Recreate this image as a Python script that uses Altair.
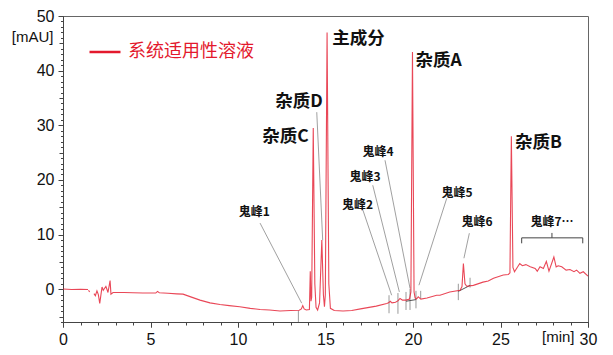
import altair as alt
import pandas as pd

RED = "#e3192d"
CJK = "Noto Sans CJK SC"
LAT = "Liberation Sans"

# ---- chromatogram trace (time [min], signal [mAU], segment id) ----
trace_t = [0.0, 0.5, 1.0, 1.43,
           1.46, 1.52,
           1.77, 1.85, 1.94, 2.02, 2.10, 2.23, 2.30, 2.34, 2.45, 2.52, 2.57, 2.69, 2.74, 2.86,
           3.5, 4.0, 4.57, 5.3, 5.4, 5.5, 6.0, 6.5, 6.86, 7.3, 7.83, 8.4, 8.97, 9.5, 10.1,
           10.7, 11.26, 11.8, 12.4, 13.0, 13.5, 13.62, 13.7, 13.78, 13.9, 14.08, 14.13,
           14.17, 14.21, 14.30, 14.39, 14.46, 14.55, 14.66, 14.79, 14.88, 14.94, 14.99,
           15.09, 15.19, 15.28, 15.5, 16.0, 16.5, 17.0, 17.9, 18.5, 18.6, 18.7, 18.8, 19.0,
           19.15, 19.26, 19.4, 19.6, 19.8, 19.88, 19.97, 20.06, 20.12, 20.2, 20.3, 20.45,
           20.8, 21.35, 21.54, 22.1, 22.69, 22.80, 22.88, 22.97, 23.07, 23.45, 24.0, 24.3,
           24.6, 25.16, 25.45, 25.54, 25.62, 25.71, 25.80, 26.1, 26.25, 26.45, 26.7, 26.98,
           27.1, 27.26, 27.45, 27.62, 27.77, 28.05, 28.18, 28.3, 28.5, 28.75, 28.97, 29.2,
           29.35, 29.54, 29.73, 30.0]
trace_v = [0.05, -0.05, 0.0, -0.05,
           -0.2, -0.5,
           -0.8, -1.2, -0.3, -1.0, -2.6, 0.4, -0.2, 0.0, 0.5, -0.1, -0.6, 1.6, -0.9, -0.6,
           -0.6, -0.65, -0.7, -0.7, -0.4, -0.65, -0.75, -0.85, -0.9, -1.4, -2.0, -2.5, -2.8, -3.0, -3.2,
           -3.5, -3.7, -3.8, -4.0, -3.9, -3.85, -3.6, -3.0, -3.6, -3.8, -3.7, 3.3,
           -2.2, -1.5, 29.5, 1.0, -3.3, -3.8, -2.5, 9.0, -1.0, -3.2, -1.0,
           47.0, 1.0, -3.5, -3.9, -4.0, -3.9, -3.6, -3.1, -2.6, -2.5, -2.2, -2.5, -2.4,
           -2.1, -1.7, -2.0, -2.0, -1.8, -0.5, 43.4, -0.5, -1.6, -1.8, -1.4, -1.8,
           -1.6, -1.1, -1.1, -0.5, -0.2, 0.5, 4.7, 1.0, 0.55, 0.7, 1.3, 1.5,
           2.0, 2.6, 2.7, 3.0, 28.0, 4.0, 3.2, 4.7, 4.3, 4.5, 4.1, 3.8,
           3.3, 4.1, 3.8, 5.1, 3.3, 5.9, 4.1, 4.3, 4.1, 3.5, 3.6, 3.2,
           3.5, 2.9, 3.2, 2.4]
trace_seg = [1] * 4 + [2] * 2 + [3] * (len(trace_t) - 6)

# ---- peak names ----
big_names = ["杂质C", "杂质D", "主成分", "杂质A", "杂质B"]
big_t = [12.71, 13.49, 16.89, 21.46, 27.17]
big_v = [27.9, 34.3, 45.7, 41.8, 26.7]

ghost_names = ["鬼峰1", "鬼峰2", "鬼峰3", "鬼峰4", "鬼峰5", "鬼峰6", "鬼峰7…"]
ghost_t = [10.93, 16.83, 17.26, 18.00, 22.51, 23.66, 27.94]
ghost_v = [14.1, 15.4, 20.5, 25.1, 17.6, 12.3, 12.3]

# leader lines: label end -> peak end
lead_t1 = [11.26, 14.50, 17.14, 17.70, 18.40, 21.93, 23.22]
lead_v1 = [12.1, 32.4, 14.46, 19.03, 23.6, 16.65, 10.25]
lead_t2 = [13.64, 14.84, 18.78, 19.22, 19.83, 20.34, 22.91]
lead_v2 = [-2.56, 8.97, -1.1, -0.49, 0.18, 0.73, 5.67]

# integration markers (vertical ticks)
mark_t = [13.45, 18.63, 19.14, 19.60, 19.83, 20.17, 20.44, 22.59, 23.26]
mark_top = [-3.9, -1.1, -0.7, -0.5, 0.1, -0.3, -0.3, 1.0, 2.1]
mark_bot = [-6.0, -4.4, -4.5, -3.8, -3.8, -3.5, -1.7, -2.0, 0.3]

# integration baselines
base_t1 = [19.60, 22.59]
base_v1 = [-2.2, -0.4]
base_t2 = [20.17, 23.26]
base_v2 = [-1.9, 0.7]

# bracket for 鬼峰7…
br_t1 = [26.21, 26.21, 29.70, 27.94]
br_v1 = [9.4, 9.4, 9.4, 9.4]
br_t2 = [29.70, 26.21, 29.70, 27.94]
br_v2 = [9.4, 8.4, 8.4, 10.3]

legend_name = "系统适用性溶液"

x_scale = alt.Scale(domain=[0, 30], nice=False, zero=False)
y_scale = alt.Scale(domain=[-6, 50], nice=False, zero=False)

df_trace = pd.DataFrame({"t": trace_t, "v": trace_v, "seg": trace_seg,
                         "name": [legend_name] * len(trace_t)})

x_major = alt.Axis(values=[0, 5, 10, 15, 20, 25, 30], grid=False, tickSize=5, tickColor="#444",
                   domainColor="#444", labelFont=LAT, labelFontSize=16, labelColor="#111",
                   labelPadding=4, labelFlush=False, title="[min]", titleFont=LAT,
                   titleFontSize=15, titleFontWeight="normal", titleColor="#111",
                   titleX=511, titleY=19, titleAlign="right", titleBaseline="alphabetic",
                   orient="bottom")
y_major = alt.Axis(values=[0, 10, 20, 30, 40, 50], grid=False, tickSize=5, tickColor="#444",
                   domainColor="#444", labelFont=LAT, labelFontSize=16, labelColor="#111",
                   labelPadding=4, labelFlush=False, title="[mAU]", titleFont=LAT,
                   titleFontSize=15, titleFontWeight="normal", titleColor="#111",
                   titleAngle=0, titleX=-10, titleY=25, titleAlign="right",
                   titleBaseline="alphabetic", orient="left")

trace = alt.Chart(df_trace).mark_line(strokeWidth=1.1, strokeOpacity=0.8).encode(
    x=alt.X("t:Q", scale=x_scale, axis=x_major),
    y=alt.Y("v:Q", scale=y_scale, axis=y_major),
    detail="seg:N",
    color=alt.Color("name:N", scale=alt.Scale(domain=[legend_name], range=[RED]),
                    legend=alt.Legend(title=None, orient="none", legendX=25, legendY=19,
                                      symbolType="stroke", symbolSize=961,
                                      symbolStrokeWidth=2.5, symbolOpacity=1,
                                      labelFont=CJK, labelFontSize=18, labelColor=RED,
                                      labelOffset=6, padding=0)),
)

minor = alt.Chart(df_trace).mark_point(opacity=0).encode(
    x=alt.X("t:Q", scale=x_scale,
            axis=alt.Axis(values=list(range(0, 31)), labels=False, grid=False, domain=False,
                          tickSize=3, tickColor="#444", title=None, orient="bottom")),
    y=alt.Y("v:Q", scale=y_scale,
            axis=alt.Axis(values=list(range(-6, 51)), labels=False, grid=False, domain=False,
                          tickSize=2.5, tickColor="#444", title=None, orient="left")),
)
mid = alt.Chart(df_trace).mark_point(opacity=0).encode(
    x=alt.X("t:Q", scale=x_scale,
            axis=alt.Axis(values=[0, 5, 10, 15, 20, 25, 30], labels=False, grid=False,
                          domain=False, tickSize=5, tickColor="#444", title=None,
                          orient="bottom")),
    y=alt.Y("v:Q", scale=y_scale,
            axis=alt.Axis(values=[-5, 5, 15, 25, 35, 45], labels=False, grid=False,
                          domain=False, tickSize=4, tickColor="#444", title=None,
                          orient="left")),
)

X1 = dict(scale=x_scale, axis=None)
Y1 = dict(scale=y_scale, axis=None)

df_marks = pd.DataFrame({"t": mark_t, "top": mark_top, "bot": mark_bot})
marks = alt.Chart(df_marks).mark_rule(color="#9a9a9a", strokeWidth=1).encode(
    x=alt.X("t:Q", **X1), y=alt.Y("top:Q", **Y1), y2="bot:Q")

df_base = pd.DataFrame({"t1": base_t1, "v1": base_v1, "t2": base_t2, "v2": base_v2})
bases = alt.Chart(df_base).mark_rule(color="#555", strokeWidth=1).encode(
    x=alt.X("t1:Q", **X1), y=alt.Y("v1:Q", **Y1), x2="t2:Q", y2="v2:Q")

df_lead = pd.DataFrame({"t1": lead_t1, "v1": lead_v1, "t2": lead_t2, "v2": lead_v2})
leads = alt.Chart(df_lead).mark_rule(color="#888", strokeWidth=0.8).encode(
    x=alt.X("t1:Q", **X1), y=alt.Y("v1:Q", **Y1), x2="t2:Q", y2="v2:Q")

df_br = pd.DataFrame({"t1": br_t1, "v1": br_v1, "t2": br_t2, "v2": br_v2})
bracket = alt.Chart(df_br).mark_rule(color="#444", strokeWidth=1).encode(
    x=alt.X("t1:Q", **X1), y=alt.Y("v1:Q", **Y1), x2="t2:Q", y2="v2:Q")

df_big = pd.DataFrame({"t": big_t, "v": big_v, "name": big_names})
big = alt.Chart(df_big).mark_text(font=CJK, fontSize=17.5, fontWeight="bold", color="#111",
                                  align="center", baseline="middle").encode(
    x=alt.X("t:Q", **X1), y=alt.Y("v:Q", **Y1), text="name:N")

df_ghost = pd.DataFrame({"t": ghost_t, "v": ghost_v, "name": ghost_names})
ghost = alt.Chart(df_ghost).mark_text(font=CJK, fontSize=12, fontWeight="bold", color="#111",
                                      align="center", baseline="middle").encode(
    x=alt.X("t:Q", **X1), y=alt.Y("v:Q", **Y1), text="name:N")

chart = alt.layer(
    minor, mid, marks, bases, leads, bracket, trace, big, ghost
).resolve_axis(x="independent", y="independent").properties(
    width=525, height=306,
    autosize=alt.AutoSizeParams(type="none"),
    padding={"left": 63, "top": 16, "right": 25, "bottom": 33},
    background="white",
).configure_view(stroke="#666", strokeWidth=1)

chart.save("out.html", embed_options={"renderer": "svg", "actions": False})
